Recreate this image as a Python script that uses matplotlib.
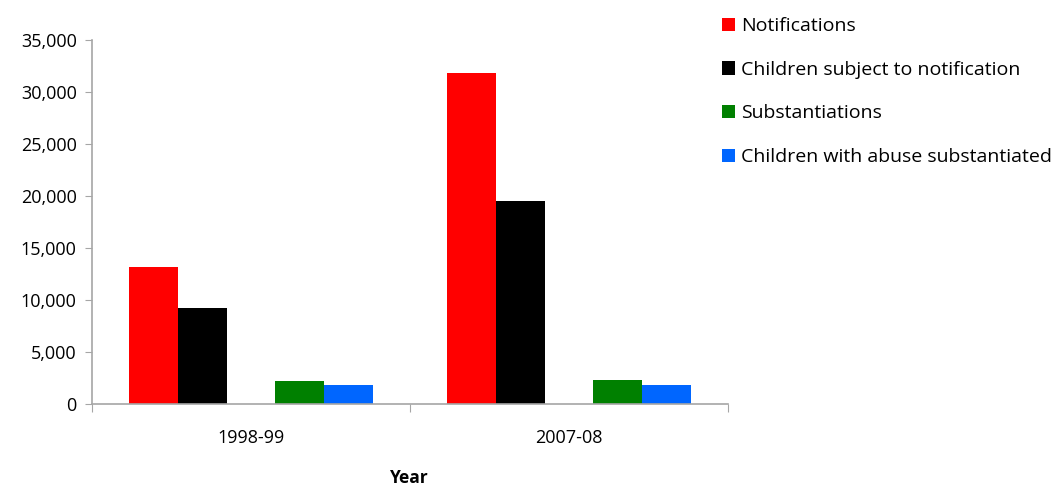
import matplotlib.pyplot as plt
import numpy as np
from matplotlib.ticker import FuncFormatter

# data
years = ['1998-99', '2007-08']
notifications = [13180, 31820]
children_notified = [9220, 19540]
substantiations = [2190, 2280]
children_substantiated = [1800, 1800]

series_names = ['Notifications', 'Children subject to notification',
                'Substantiations', 'Children with abuse substantiated']
colors = ['#ff0000', '#000000', '#008000', '#0066ff']

plt.rcParams['font.family'] = ['Open Sans', 'DejaVu Sans']

fig = plt.figure(figsize=(10.64, 4.86), dpi=100)
ax = fig.add_axes([92 / 1064, 1 - 404 / 486, 636 / 1064, 364 / 486])

x = np.arange(len(years))
w = 0.154
# excel leaves an empty slot in the middle of each group
offsets = [-2 * w, -w, w, 2 * w]
all_series = [notifications, children_notified, substantiations, children_substantiated]
for vals, off, c, name in zip(all_series, offsets, colors, series_names):
    ax.bar(x + off, vals, width=w, color=c, label=name)

ax.set_xlim(-0.5, 1.5)
ax.set_ylim(0, 35000)
ax.set_yticks(np.arange(0, 35001, 5000))
ax.yaxis.set_major_formatter(FuncFormatter(lambda v, p: f'{int(v):,}'))

ax.set_xticks([-0.5, 0.5, 1.5])
ax.set_xticklabels([])
ax.set_xticks(x, minor=True)
ax.set_xticklabels(years, minor=True)
ax.tick_params(axis='x', which='minor', length=0, pad=18, labelsize=13)
ax.tick_params(axis='x', which='major', length=6, color='#a6a6a6')
ax.tick_params(axis='y', length=5, color='#a6a6a6', labelsize=13, pad=6)

for s in ['top', 'right']:
    ax.spines[s].set_visible(False)
for s in ['left', 'bottom']:
    ax.spines[s].set_color('#a6a6a6')
    ax.spines[s].set_linewidth(1.2)

fig.text(409 / 1064, 1 - 478 / 486, 'Year', ha='center', va='center',
         fontsize=12.5, fontweight='bold')

fig.legend(loc='upper left', bbox_to_anchor=(722 / 1064, 1 - 17 / 486),
           frameon=False, fontsize=14, handlelength=0.68, handleheight=0.68,
           handletextpad=0.3, labelspacing=1.32, borderaxespad=0, borderpad=0)

fig.savefig('out.png', dpi=100)
